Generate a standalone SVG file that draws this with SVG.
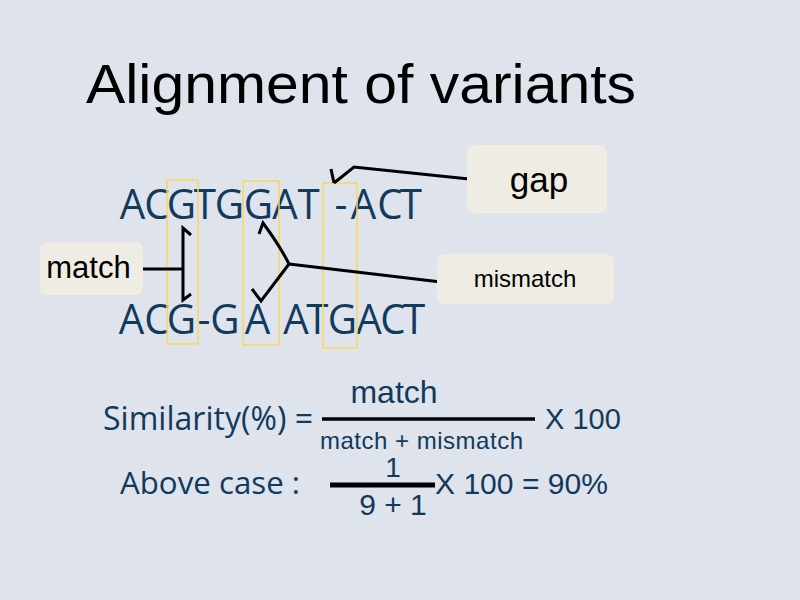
<svg xmlns="http://www.w3.org/2000/svg" width="800" height="600" viewBox="0 0 800 600">
  <style>
    .title { font-family: "Liberation Sans", Arial, sans-serif; font-size: 56px; fill: #000; }
    .seq { font-family: "Open Sans", "Noto Sans", sans-serif; font-size: 42px; fill: #123a5c; text-anchor: middle; }
    .label { font-family: "Liberation Sans", Arial, sans-serif; fill: #000; text-anchor: middle; }
    .box { fill: #eeece3; stroke: none; }
    .hl { fill: none; stroke: #f7d95c; stroke-width: 1.5; }
    .conn { fill: none; stroke: #000; stroke-width: 3; stroke-linejoin: miter; stroke-linecap: butt; }
    .f-seg { font-family: "Open Sans", "Noto Sans", sans-serif; fill: #123a5c; }
    .f-ar { font-family: "Liberation Sans", Arial, sans-serif; fill: #123a5c; }
    .bar { stroke: #000; }
  </style>

  <rect width="800" height="600" fill="#dee3ec"/>

  <text class="title" x="86" y="103" textLength="550" lengthAdjust="spacingAndGlyphs">Alignment of variants</text>

  <!-- aligned sequences, glyphs centred per column and slightly condensed -->
  <g id="sequences" transform="scale(0.96,1)">
    <text class="seq" y="219" x="138 163.5 189.1 213.5 239.1 269.3 296.9 321.4 338.5 355.2 378.6 406.3 428.1">ACGTGGAT -ACT</text>
    <text class="seq" y="334" x="137 163.5 189.1 212.5 234.4 268.2 287.5 308.3 330.7 356.8 384.4 409.4 431.3">ACG-GA ATGACT</text>
  </g>

  <!-- highlighted columns -->
  <g id="columns">
    <rect class="hl" x="167" y="180" width="31" height="164"/>
    <rect class="hl" x="243" y="181" width="36" height="164"/>
    <rect class="hl" x="323" y="183" width="34" height="165"/>
  </g>

  <!-- callout connectors -->
  <g id="connectors">
    <polyline class="conn" points="469,179 354,167 334,183"/>
    <polyline class="conn" points="331,169 334,183"/>
    <polyline class="conn" points="143,269 183,269"/>
    <polyline class="conn" points="191,235 183,228 183,300 191,294"/>
    <polyline class="conn" points="441,282 289,264"/>
    <path class="conn" d="M259,234 L263,223 Q280,246 289,264 L261,301 L252,289"/>
  </g>

  <g id="gap">
    <rect class="box" x="467" y="145" width="140" height="68" rx="7"/>
    <text class="label" x="539" y="192" font-size="35">gap</text>
  </g>

  <g id="match">
    <rect class="box" x="40" y="242" width="103" height="53" rx="7"/>
    <text class="label" x="88.5" y="278" font-size="31">match</text>
  </g>

  <g id="mismatch">
    <rect class="box" x="437" y="254" width="177" height="50" rx="7"/>
    <text class="label" x="525" y="287" font-size="24">mismatch</text>
  </g>

  <!-- similarity formula -->
  <g id="formula">
    <text class="f-seg" x="103" y="430" font-size="32" textLength="210" lengthAdjust="spacingAndGlyphs">Similarity(%) =</text>
    <line class="bar" x1="322" y1="419" x2="535" y2="419" stroke-width="3.5"/>
    <text class="f-ar" x="394" y="403" font-size="32" text-anchor="middle">match</text>
    <text class="f-ar" x="421.5" y="449" font-size="24" text-anchor="middle" textLength="203" lengthAdjust="spacing">match + mismatch</text>
    <text class="f-ar" x="545" y="429" font-size="29">X 100</text>
  </g>

  <g id="example">
    <text class="f-seg" x="120" y="494" font-size="31" textLength="180" lengthAdjust="spacingAndGlyphs">Above case :</text>
    <line class="bar" x1="330" y1="485" x2="435" y2="485" stroke-width="5"/>
    <text class="f-ar" x="393" y="477" font-size="28" text-anchor="middle">1</text>
    <text class="f-ar" x="393" y="515" font-size="30" text-anchor="middle">9 + 1</text>
    <text class="f-ar" x="435" y="494" font-size="29" textLength="173" lengthAdjust="spacingAndGlyphs">X 100 = 90%</text>
  </g>
</svg>
